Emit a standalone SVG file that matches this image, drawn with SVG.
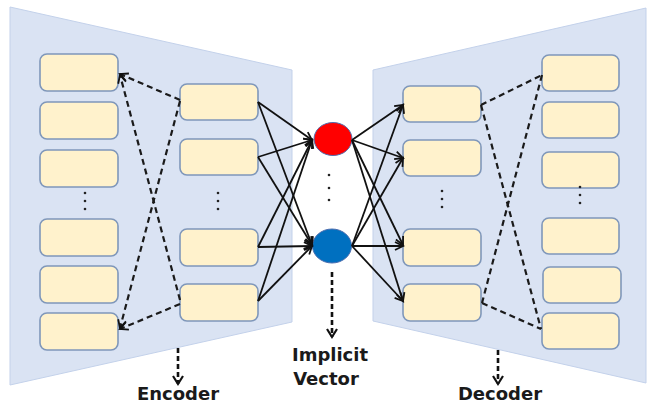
<svg xmlns="http://www.w3.org/2000/svg" width="647" height="405" viewBox="0 0 647 405">
  <style>
    .panel { fill: #DAE3F3; stroke: #C3D1EA; stroke-width: 1; }
    .box { fill: #FFF2CC; stroke: #7F97BA; stroke-width: 1.6; }
    .dot { fill: #222; }
    .solid { stroke: #111; stroke-width: 1.8; fill: none; }
    .dash { stroke: #1a1a1a; stroke-width: 2.2; stroke-dasharray: 6 4; fill: none; }
    .vdash { stroke: #111; stroke-width: 2.6; stroke-dasharray: 5 3; fill: none; }
    .label { font-family: "DejaVu Sans", "Liberation Sans", sans-serif; font-weight: bold; font-size: 18px; fill: #1a1a1a; text-anchor: middle; }
  </style>
  <defs>
    <marker id="arrow" markerUnits="userSpaceOnUse" markerWidth="12" markerHeight="12" refX="9" refY="5" orient="auto">
      <path d="M1,1 L9,5 L1,9" fill="none" stroke="#111" stroke-width="1.8"/>
    </marker>
    <marker id="arrowDown" markerUnits="userSpaceOnUse" markerWidth="14" markerHeight="14" refX="10" refY="6" orient="auto">
      <path d="M2,1 L10,6 L2,11" fill="none" stroke="#111" stroke-width="2.2"/>
    </marker>
  </defs>

  <!-- trapezoid backgrounds -->
  <g id="encoder-panel">
    <polygon class="panel" points="10,7 292,70 292,322 10,385"/>
  </g>
  <g id="decoder-panel">
    <polygon class="panel" points="373,70 646,8 646,383 373,321"/>
  </g>

  <!-- encoder input column -->
  <g id="enc-in-1"><rect class="box" x="40" y="54" width="78" height="37" rx="7"/></g>
  <g id="enc-in-2"><rect class="box" x="40" y="102" width="78" height="37" rx="7"/></g>
  <g id="enc-in-3"><rect class="box" x="40" y="150" width="78" height="37" rx="7"/></g>
  <g id="enc-in-dots">
    <circle class="dot" cx="85" cy="193" r="1.3"/>
    <circle class="dot" cx="85" cy="201" r="1.3"/>
    <circle class="dot" cx="85" cy="209" r="1.3"/>
  </g>
  <g id="enc-in-4"><rect class="box" x="40" y="219" width="78" height="37" rx="7"/></g>
  <g id="enc-in-5"><rect class="box" x="40" y="266" width="78" height="37" rx="7"/></g>
  <g id="enc-in-6"><rect class="box" x="40" y="313" width="78" height="37" rx="7"/></g>

  <!-- encoder hidden column -->
  <g id="enc-hid-1"><rect class="box" x="180" y="84" width="78" height="36" rx="7"/></g>
  <g id="enc-hid-2"><rect class="box" x="180" y="139" width="78" height="36" rx="7"/></g>
  <g id="enc-hid-dots">
    <circle class="dot" cx="218" cy="193" r="1.3"/>
    <circle class="dot" cx="218" cy="201" r="1.3"/>
    <circle class="dot" cx="218" cy="209" r="1.3"/>
  </g>
  <g id="enc-hid-3"><rect class="box" x="180" y="229" width="78" height="37" rx="7"/></g>
  <g id="enc-hid-4"><rect class="box" x="180" y="284" width="78" height="37" rx="7"/></g>

  <!-- latent units -->
  <g id="latent-1"><ellipse cx="333" cy="139" rx="19" ry="16.5" fill="#FF0000" stroke="#4F6FB0" stroke-width="1"/></g>
  <g id="latent-dots">
    <circle class="dot" cx="329" cy="175" r="1.3"/>
    <circle class="dot" cx="329" cy="188" r="1.3"/>
    <circle class="dot" cx="329" cy="200" r="1.3"/>
  </g>
  <g id="latent-2"><ellipse cx="332" cy="246" rx="19.5" ry="17" fill="#0070C0" stroke="#4F6FB0" stroke-width="1"/></g>

  <!-- decoder hidden column -->
  <g id="dec-hid-1"><rect class="box" x="403" y="86" width="78" height="36" rx="7"/></g>
  <g id="dec-hid-2"><rect class="box" x="403" y="140" width="78" height="36" rx="7"/></g>
  <g id="dec-hid-dots">
    <circle class="dot" cx="442" cy="191" r="1.3"/>
    <circle class="dot" cx="442" cy="199" r="1.3"/>
    <circle class="dot" cx="442" cy="207" r="1.3"/>
  </g>
  <g id="dec-hid-3"><rect class="box" x="403" y="229" width="78" height="37" rx="7"/></g>
  <g id="dec-hid-4"><rect class="box" x="403" y="284" width="78" height="37" rx="7"/></g>

  <!-- decoder output column -->
  <g id="dec-out-1"><rect class="box" x="542" y="55" width="77" height="36" rx="7"/></g>
  <g id="dec-out-2"><rect class="box" x="542" y="102" width="77" height="36" rx="7"/></g>
  <g id="dec-out-3"><rect class="box" x="542" y="152" width="77" height="36" rx="7"/></g>
  <g id="dec-out-dots">
    <circle class="dot" cx="580" cy="187" r="1.3"/>
    <circle class="dot" cx="580" cy="195" r="1.3"/>
    <circle class="dot" cx="580" cy="203" r="1.3"/>
  </g>
  <g id="dec-out-4"><rect class="box" x="542" y="218" width="77" height="36" rx="7"/></g>
  <g id="dec-out-5"><rect class="box" x="543" y="267" width="78" height="36" rx="7"/></g>
  <g id="dec-out-6"><rect class="box" x="542" y="313" width="77" height="36" rx="7"/></g>

  <!-- connectors -->
  <g id="connectors">
    <!-- encoder dashed links -->
    <line class="dash" x1="180" y1="100" x2="120" y2="74" marker-end="url(#arrow)"/>
    <line class="dash" x1="180" y1="300" x2="120" y2="75" marker-end="url(#arrow)"/>
    <line class="dash" x1="180" y1="101" x2="120" y2="328" marker-end="url(#arrow)"/>
    <line class="dash" x1="180" y1="304" x2="120" y2="329" marker-end="url(#arrow)"/>

    <!-- hidden to latent -->
    <line class="solid" x1="258" y1="102" x2="312" y2="140" marker-end="url(#arrow)"/>
    <line class="solid" x1="258" y1="102" x2="312" y2="245" marker-end="url(#arrow)"/>
    <line class="solid" x1="258" y1="157" x2="312" y2="140" marker-end="url(#arrow)"/>
    <line class="solid" x1="258" y1="157" x2="312" y2="245" marker-end="url(#arrow)"/>
    <line class="solid" x1="258" y1="247" x2="312" y2="140" marker-end="url(#arrow)"/>
    <line class="solid" x1="258" y1="247" x2="312" y2="246" marker-end="url(#arrow)"/>
    <line class="solid" x1="258" y1="301" x2="312" y2="140" marker-end="url(#arrow)"/>
    <line class="solid" x1="258" y1="301" x2="312" y2="246" marker-end="url(#arrow)"/>

    <!-- latent to decoder hidden -->
    <line class="solid" x1="352" y1="140" x2="403" y2="105" marker-end="url(#arrow)"/>
    <line class="solid" x1="352" y1="140" x2="403" y2="158" marker-end="url(#arrow)"/>
    <line class="solid" x1="352" y1="140" x2="403" y2="245" marker-end="url(#arrow)"/>
    <line class="solid" x1="352" y1="140" x2="403" y2="301" marker-end="url(#arrow)"/>
    <line class="solid" x1="352" y1="246" x2="403" y2="105" marker-end="url(#arrow)"/>
    <line class="solid" x1="352" y1="246" x2="403" y2="158" marker-end="url(#arrow)"/>
    <line class="solid" x1="352" y1="246" x2="403" y2="246" marker-end="url(#arrow)"/>
    <line class="solid" x1="352" y1="246" x2="403" y2="301" marker-end="url(#arrow)"/>

    <!-- decoder dashed links -->
    <line class="dash" x1="481" y1="105" x2="542" y2="75"/>
    <line class="dash" x1="481" y1="105" x2="541" y2="329"/>
    <line class="dash" x1="542" y1="75" x2="482" y2="303"/>
    <line class="dash" x1="482" y1="303" x2="541" y2="329"/>

    <!-- output arrows -->
    <line class="vdash" x1="178" y1="348" x2="178" y2="384" marker-end="url(#arrowDown)"/>
    <line class="vdash" x1="332" y1="272" x2="332" y2="337" marker-end="url(#arrowDown)"/>
    <line class="vdash" x1="498" y1="350" x2="498" y2="384" marker-end="url(#arrowDown)"/>
  </g>

  <!-- labels -->
  <text class="label" x="178" y="400">Encoder</text>
  <text class="label" x="330" y="361">Implicit</text>
  <text class="label" x="326" y="385">Vector</text>
  <text class="label" x="500" y="400">Decoder</text>
</svg>
